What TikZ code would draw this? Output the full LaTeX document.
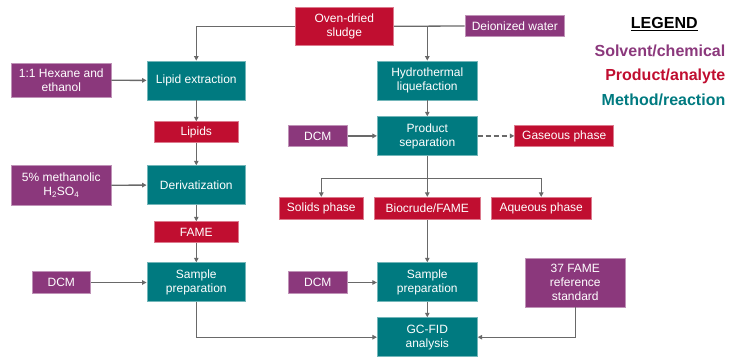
\documentclass[tikz,border=0pt]{standalone}
\usepackage{fontspec}
\setmainfont{Liberation Sans}
\usetikzlibrary{arrows.meta}
\definecolor{cpurple}{RGB}{139,56,124}
\definecolor{cred}{RGB}{192,14,48}
\definecolor{cteal}{RGB}{0,122,128}
\definecolor{cline}{RGB}{105,105,105}
\tikzset{
  basebox/.style={inner sep=0pt, align=center, text=white, font=\fontsize{12}{14}\selectfont, line width=0.8pt},
  solv/.style={basebox, fill=cpurple, draw=cpurple!55!white},
  prod/.style={basebox, fill=cred, draw=cred!55!white},
  meth/.style={basebox, fill=cteal, draw=cteal!55!white},
  conn/.style={draw=cline, line width=1.3pt},
  arr/.style={conn, -{Triangle[length=4.5pt,width=4.5pt]}},
  sz/.style 2 args={minimum width=#1pt, minimum height=#2pt},
  legtxt/.style={font=\fontsize{16}{18}\bfseries\selectfont, anchor=east, inner sep=0pt}
}
\begin{document}
\begin{tikzpicture}[x=1pt,y=-1pt]
\useasboundingbox (0,0) rectangle (736,358);
% nodes
\node[prod, sz={98.7}{38.7}] (ods) at (344.3,26.3) {Oven-dried\\sludge};
\node[solv, sz={99.7}{21.4}] (dw) at (514.8,26) {Deionized water};
\node[solv, sz={99.3}{34.3}] (hex) at (61.3,80.2) {1:1 Hexane and\\ethanol};
\node[meth, sz={98.7}{39}] (le) at (196.3,80.5) {Lipid extraction};
\node[prod, sz={84.7}{21}] (lip) at (196.3,132.2) {Lipids};
\node[solv, sz={59}{20.7}] (dcma) at (317.8,135.9) {DCM};
\node[meth, sz={100}{39}] (htl) at (427.3,80.5) {Hydrothermal\\liquefaction};
\node[meth, sz={100}{38.6}] (ps) at (427.3,136) {Product\\separation};
\node[prod, sz={99}{20.7}] (gas) at (564.2,135.9) {Gaseous phase};
\node[solv, sz={99.3}{39.3}] (mh) at (61.3,185.3) {5\% methanolic\\H\textsubscript{2}SO\textsubscript{4}};
\node[meth, sz={98.7}{38.6}] (der) at (196.3,185) {Derivatization};
\node[prod, sz={84.7}{21}] (fame) at (196.3,232.2) {FAME};
\node[prod, sz={84}{22.4}] (sol) at (321.3,208.5) {Solids phase};
\node[prod, sz={106.7}{22.4}] (bio) at (427.3,208.5) {Biocrude/FAME};
\node[prod, sz={99.7}{22.4}] (aq) at (541.2,208.5) {Aqueous phase};
\node[meth, sz={98.7}{39}] (spa) at (196.3,282.2) {Sample\\preparation};
\node[solv, sz={58.7}{22}] (dcmb) at (61.3,282.5) {DCM};
\node[solv, sz={59}{22}] (dcmc) at (317.8,282.5) {DCM};
\node[meth, sz={100}{39}] (spb) at (427.3,282.2) {Sample\\preparation};
\node[meth, sz={100}{39}] (gc) at (427.3,337.2) {GC-FID\\analysis};
\node[solv, sz={100}{48.7}] (ref) at (575.3,282.7) {37 FAME\\reference\\standard};
% legend
\node[font=\fontsize{16}{18}\bfseries\selectfont, inner sep=0pt] (lg) at (664.3,24) {\underline{LEGEND}};
\node[legtxt, text=cpurple] (l1) at (725.5,50.7) {Solvent/chemical};
\node[legtxt, text=cred] (l2) at (725.5,76) {Product/analyte};
\node[legtxt, text=cteal] (l3) at (725.5,100) {Method/reaction};
% coordinates
\coordinate (c1) at (196.3,26.3);
\coordinate (c2) at (427.3,26.3);
\coordinate (br) at (427.3,178.3);
\coordinate (brl) at (321.3,178.3);
\coordinate (brr) at (541.2,178.3);
\coordinate (c3) at (196.3,337.2);
\coordinate (c4) at (575.3,337.2);
% connectors
\draw[arr] (ods.west) -- (c1) -- (le.north);
\draw[conn] (ods.east) -- (dw.west);
\draw[arr] (c2) -- (htl.north);
\draw[arr] (hex) -- (le);
\draw[arr] (le) -- (lip);
\draw[arr] (lip) -- (der);
\draw[arr] (dcma) -- (ps.west |- dcma);
\draw[arr] (htl) -- (ps);
\draw[arr, dashed, dash pattern=on 5pt off 3pt] (ps.east |- gas) -- (gas.west);
\draw[conn] (ps.south) -- (br);
\draw[conn] (brl) -- (brr);
\draw[arr] (brl) -- (sol.north);
\draw[arr] (br) -- (bio.north);
\draw[arr] (brr) -- (aq.north);
\draw[arr] (mh) -- (der);
\draw[arr] (der) -- (fame);
\draw[arr] (fame) -- (spa);
\draw[arr] (dcmb) -- (spa.west |- dcmb);
\draw[arr] (bio) -- (spb);
\draw[arr] (dcmc) -- (spb.west |- dcmc);
\draw[arr] (spb) -- (gc);
\draw[arr] (spa.south) -- (c3) -- (gc.west);
\draw[arr] (ref.south) -- (c4) -- (gc.east);
\end{tikzpicture}
\end{document}
